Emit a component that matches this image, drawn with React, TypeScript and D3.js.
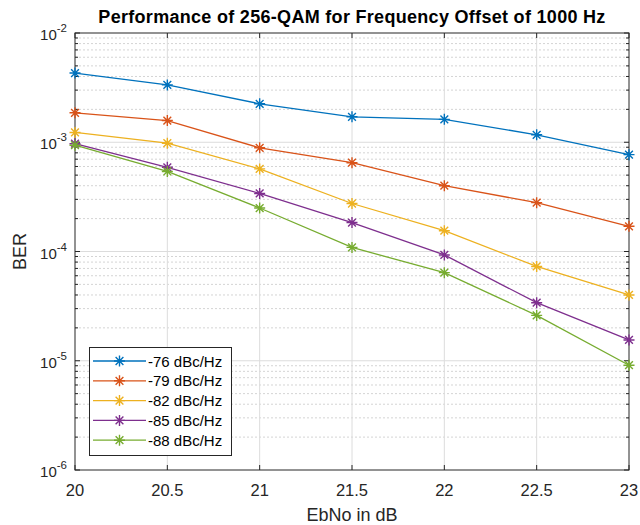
import { useEffect, useRef } from "react";
import * as d3 from "d3";

const ebno = [20, 20.5, 21, 21.5, 22, 22.5, 23];
const seriesNames = ["-76 dBc/Hz", "-79 dBc/Hz", "-82 dBc/Hz", "-85 dBc/Hz", "-88 dBc/Hz"];
const ber76 = [4.3e-3, 3.35e-3, 2.25e-3, 1.71e-3, 1.62e-3, 1.17e-3, 7.7e-4];
const ber79 = [1.86e-3, 1.58e-3, 8.9e-4, 6.5e-4, 4.0e-4, 2.8e-4, 1.7e-4];
const ber82 = [1.23e-3, 9.8e-4, 5.7e-4, 2.75e-4, 1.55e-4, 7.3e-5, 4.0e-5];
const ber85 = [9.7e-4, 5.9e-4, 3.4e-4, 1.84e-4, 9.3e-5, 3.4e-5, 1.55e-5];
const ber88 = [9.4e-4, 5.4e-4, 2.5e-4, 1.09e-4, 6.4e-5, 2.6e-5, 9.1e-6];
const colors = ["#0072BD", "#D95319", "#EDB120", "#7E2F8E", "#77AC30"];
const xTicks = [20, 20.5, 21, 21.5, 22, 22.5, 23];
const yDecades = [-6, -5, -4, -3, -2];

const W = 640;
const H = 525;
const m = { left: 75, right: 11, top: 33, bottom: 55 };
const font = "Helvetica, Arial, 'Liberation Sans', sans-serif";
const axisColor = "#262626";

const App = () => {
  const svgRef = useRef<SVGSVGElement>(null);

  useEffect(() => {
    if (!svgRef.current) return;
    const svg = d3.select(svgRef.current);
    svg.selectAll("*").remove();

    const x = d3.scaleLinear().domain([20, 23]).range([m.left, W - m.right]);
    const y = d3.scaleLog().domain([1e-6, 1e-2]).range([H - m.bottom, m.top]);
    const [x0, x1] = x.range();
    const [y0, y1] = y.range();

    svg.append("rect").attr("width", W).attr("height", H).attr("fill", "#fff");

    // minor grid
    const minors: number[] = [];
    yDecades.slice(0, -1).forEach((e) => {
      for (let k = 2; k <= 9; k++) minors.push(k * Math.pow(10, e));
    });
    const g = svg.append("g");
    g.selectAll("line.minor")
      .data(minors)
      .join("line")
      .attr("x1", x0)
      .attr("x2", x1)
      .attr("y1", (d) => y(d))
      .attr("y2", (d) => y(d))
      .attr("stroke", "#d4d4d4")
      .attr("stroke-dasharray", "2,2")
      .attr("stroke-width", 1);

    // major grid
    g.selectAll("line.majy")
      .data(yDecades.slice(1, -1))
      .join("line")
      .attr("x1", x0)
      .attr("x2", x1)
      .attr("y1", (d) => y(Math.pow(10, d)))
      .attr("y2", (d) => y(Math.pow(10, d)))
      .attr("stroke", "#dcdcdc");
    g.append("g")
      .selectAll("line")
      .data(xTicks.slice(1, -1))
      .join("line")
      .attr("x1", (d) => x(d))
      .attr("x2", (d) => x(d))
      .attr("y1", y0)
      .attr("y2", y1)
      .attr("stroke", "#dcdcdc");

    // axes box
    svg.append("rect")
      .attr("x", x0)
      .attr("y", y1)
      .attr("width", x1 - x0)
      .attr("height", y0 - y1)
      .attr("fill", "none")
      .attr("stroke", axisColor)
      .attr("stroke-width", 1);

    // ticks
    const ticks = svg.append("g").attr("stroke", axisColor);
    xTicks.forEach((t) => {
      ticks.append("line").attr("x1", x(t)).attr("x2", x(t)).attr("y1", y0).attr("y2", y0 - 5);
      ticks.append("line").attr("x1", x(t)).attr("x2", x(t)).attr("y1", y1).attr("y2", y1 + 5);
    });
    yDecades.forEach((e) => {
      const yy = y(Math.pow(10, e));
      ticks.append("line").attr("x1", x0).attr("x2", x0 + 5).attr("y1", yy).attr("y2", yy);
      ticks.append("line").attr("x1", x1).attr("x2", x1 - 5).attr("y1", yy).attr("y2", yy);
    });
    minors.forEach((d) => {
      const yy = y(d);
      ticks.append("line").attr("x1", x0).attr("x2", x0 + 3).attr("y1", yy).attr("y2", yy);
      ticks.append("line").attr("x1", x1).attr("x2", x1 - 3).attr("y1", yy).attr("y2", yy);
    });

    // tick labels
    svg.append("g")
      .selectAll("text")
      .data(xTicks)
      .join("text")
      .attr("x", (d) => x(d))
      .attr("y", y0 + 26)
      .attr("text-anchor", "middle")
      .attr("font-family", font)
      .attr("font-size", 16.5)
      .attr("fill", axisColor)
      .text((d) => String(d));

    const yl = svg.append("g");
    yDecades.forEach((e) => {
      const t = yl
        .append("text")
        .attr("x", x0 - 8)
        .attr("y", y(Math.pow(10, e)) + 7)
        .attr("text-anchor", "end")
        .attr("font-family", font)
        .attr("font-size", 15)
        .attr("fill", axisColor);
      t.append("tspan").text("10");
      t.append("tspan").attr("dy", -8).attr("font-size", 11.5).text(String(e));
    });

    // axis titles
    svg.append("text")
      .attr("x", (x0 + x1) / 2)
      .attr("y", H - 4)
      .attr("text-anchor", "middle")
      .attr("font-family", font)
      .attr("font-size", 18)
      .attr("fill", axisColor)
      .text("EbNo in dB");
    svg.append("text")
      .attr("transform", `translate(26,${(y0 + y1) / 2}) rotate(-90)`)
      .attr("text-anchor", "middle")
      .attr("font-family", font)
      .attr("font-size", 18)
      .attr("fill", axisColor)
      .text("BER");
    svg.append("text")
      .attr("x", (x0 + x1) / 2)
      .attr("y", 23)
      .attr("text-anchor", "middle")
      .attr("font-family", font)
      .attr("font-size", 18)
      .attr("letter-spacing", 0.3)
      .attr("font-weight", "bold")
      .attr("fill", "#000")
      .text("Performance of 256-QAM for Frequency Offset of 1000 Hz");

    // series
    const allSeries = [ber76, ber79, ber82, ber85, ber88];
    const line = d3
      .line<number>()
      .x((_, i) => x(ebno[i]))
      .y((d) => y(d));

    const star = (sel: d3.Selection<SVGGElement, unknown, null, undefined>, cx: number, cy: number, color: string) => {
      const r = 5.5;
      const d = r * 0.707;
      const p = `M${cx - r},${cy}L${cx + r},${cy}M${cx},${cy - r}L${cx},${cy + r}M${cx - d},${cy - d}L${cx + d},${cy + d}M${cx - d},${cy + d}L${cx + d},${cy - d}`;
      sel.append("path").attr("d", p).attr("stroke", color).attr("stroke-width", 1.4).attr("fill", "none");
    };

    const plot = svg.append("g");
    allSeries.forEach((s, k) => {
      plot.append("path")
        .attr("d", line(s))
        .attr("fill", "none")
        .attr("stroke", colors[k])
        .attr("stroke-width", 1.3);
      const mg = plot.append("g");
      s.forEach((v, i) => star(mg, x(ebno[i]), y(v), colors[k]));
    });

    // legend
    const lg = svg.append("g");
    lg.append("rect")
      .attr("x", 89.5)
      .attr("y", 347.5)
      .attr("width", 142)
      .attr("height", 108)
      .attr("fill", "#fff")
      .attr("stroke", axisColor);
    seriesNames.forEach((name, k) => {
      const yy = 361 + k * 19.8;
      lg.append("line")
        .attr("x1", 93)
        .attr("x2", 146)
        .attr("y1", yy)
        .attr("y2", yy)
        .attr("stroke", colors[k])
        .attr("stroke-width", 1.3);
      star(lg, 119.5, yy, colors[k]);
      lg.append("text")
        .attr("x", 148)
        .attr("y", yy + 5.5)
        .attr("font-family", font)
        .attr("font-size", 15)
        .attr("fill", "#000")
        .text(name);
    });
  }, []);

  return <svg ref={svgRef} width={W} height={H} style={{ display: "block", position: "absolute", left: 0, top: 0 }} />;
};

export default App;
